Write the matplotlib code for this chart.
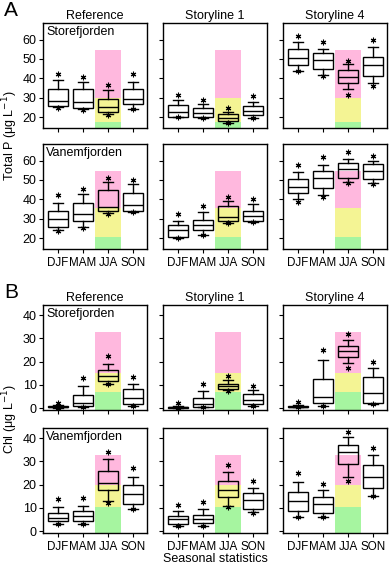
import matplotlib.pyplot as plt

plt.rcParams['font.family'] = ['Liberation Sans', 'DejaVu Sans']

seasons = ["DJF", "MAM", "JJA", "SON"]
scenarios = ["Reference", "Storyline 1", "Storyline 4"]
fjords = ["Storefjorden", "Vanemfjorden"]

# each season: (star_lo, whislo, q1, median, q3, whishi, star_hi)
tp_store_ref = [(25, 25.2, 25.8, 28.6, 34.4, 39, 42.4), (24, 24.1, 25, 27.7, 34.7, 38.3, 40.7),
                (21.2, 21.8, 22.7, 25.1, 29.2, 34.2, 36.6), (24.2, 24.4, 26.7, 29.4, 34.7, 38.1, 42.4)]
tp_store_s1 = [(20, 20.1, 20.3, 22.6, 26.2, 29, 31.6), (19.8, 19.9, 20.1, 22.2, 24.9, 26.7, 29),
               (17, 17.1, 18.1, 19.6, 21.5, 22.7, 24.6), (19.8, 19.9, 21.2, 23.4, 25.6, 28, 30.9)]
tp_store_s4 = [(43.8, 43.9, 46.8, 50.6, 54.9, 58.8, 62), (41.5, 42, 45.1, 49.7, 53.1, 54.9, 58.6),
               (31.4, 34.4, 37.4, 40.8, 44.3, 47.2, 49.2), (36, 37.8, 41.3, 46.7, 51.1, 56, 60)]
tp_vanem_ref = [(24, 24.3, 25.7, 29.8, 34.2, 38, 42.3), (25.5, 25.7, 29.1, 32.5, 38.4, 42.8, 45.3),
                (32.7, 32.9, 34.1, 36, 44.9, 48.8, 51.2), (33.5, 33.6, 34.2, 37.2, 43.5, 47.8, 50)]
tp_vanem_s1 = [(20.3, 20.4, 20.8, 24.3, 26.7, 29.1, 32.5), (21.5, 21.7, 24.3, 27, 29.4, 33.7, 36.5),
               (28, 28.1, 29.1, 31.1, 36.5, 39.2, 41.4), (28.4, 28.5, 29.1, 31.5, 34.2, 37.5, 40.1)]
tp_vanem_s4 = [(38.9, 40.1, 43.2, 46.6, 50.7, 54.2, 57.8), (41, 42.3, 45.8, 50.9, 54.8, 57.8, 61.7),
               (48.5, 49.2, 50.9, 55.6, 58.7, 60.9, 64.3), (48, 48.3, 50.7, 54.7, 58.1, 59.5, 62.1)]

chl_store_ref = [(0.2, 0.2, 0.3, 0.5, 0.9, 1.3, 2.2), (0.3, 0.3, 1.0, 2.4, 5.7, 9.6, 13.1),
                 (10.4, 10.4, 11.8, 13.6, 16.4, 19.1, 22.4), (1.0, 1.0, 1.7, 4.3, 8.3, 10.4, 13.3)]
chl_store_s1 = [(0.2, 0.2, 0.2, 0.4, 0.7, 1.1, 2.2), (0.3, 0.3, 0.7, 1.8, 4.3, 7.4, 10.3),
                (7.4, 7.6, 8.3, 9.6, 10.4, 12.1, 14), (1.0, 1.0, 1.7, 3.6, 6.0, 7.6, 9.3)]
chl_store_s4 = [(0.3, 0.3, 0.4, 0.7, 1.1, 1.5, 2.6), (1.0, 1.0, 2.4, 4.7, 12.6, 20.7, 25),
                (17.2, 19.3, 22.1, 24.6, 26.9, 29.3, 31.8), (1.8, 1.8, 2.4, 6.4, 13.3, 17.2, 20)]
chl_vanem_ref = [(3, 3.2, 4.2, 5.8, 7.9, 10.3, 13.9), (3, 3.2, 4.3, 6.4, 8.5, 10.7, 14.3),
                 (12.2, 12.9, 17.8, 20.8, 26, 31.1, 33.9), (9.3, 9.3, 11.5, 15.8, 20, 23.2, 27)]
chl_vanem_s1 = [(2.3, 2.3, 3.2, 5.0, 6.3, 8.5, 11.3), (2.4, 2.4, 3.4, 5.2, 7.0, 9.3, 12.4),
                (10.4, 10.6, 14.6, 17.5, 21.5, 25.3, 28.2), (8.0, 8.2, 9.6, 13.2, 16.3, 18.5, 21.5)]
chl_vanem_s4 = [(6, 6, 8.6, 12.9, 16.7, 21, 25.1), (6, 6, 7.7, 11.5, 14.6, 17.5, 20.3),
                (21.5, 23.2, 28.9, 33.9, 37.2, 40.3, 42.5), (15, 15.3, 18.6, 23.2, 28.2, 32.8, 35.6)]

# class limits for JJA (green top, yellow top, pink top)
tp_bands = [(17.5, 30, 54.5), (20.5, 35.5, 54.5)]
chl_bands = [(7, 15, 32.7), (10.5, 20, 32.7)]

panels = [
    ("Total P (μg L$^{-1}$)", [[tp_store_ref, tp_store_s1, tp_store_s4],
                               [tp_vanem_ref, tp_vanem_s1, tp_vanem_s4]],
     tp_bands, (14.5, 68.5), [20, 30, 40, 50, 60], "A"),
    ("Chl (μg L$^{-1}$)", [[chl_store_ref, chl_store_s1, chl_store_s4],
                           [chl_vanem_ref, chl_vanem_s1, chl_vanem_s4]],
     chl_bands, (-0.8, 44.3), [0, 10, 20, 30, 40], "B"),
]

W, H = 392, 567
fig = plt.figure(figsize=(W / 100, H / 100), dpi=100)

col_left = [43, 163, 283]
row_top = [[23, 144], [305, 428]]
ax_w, ax_h = 104, 105
band_colors = ["#a6f5a0", "#f4f494", "#ffb8de"]

for p, (ylabel, data, bands, ylim, yticks, letter) in enumerate(panels):
    for r in range(2):
        for c in range(3):
            top = row_top[p][r]
            ax = fig.add_axes([col_left[c] / W, 1 - (top + ax_h) / H, ax_w / W, ax_h / H])
            # coloured class bands behind JJA
            lo = ylim[0]
            for k in range(3):
                ax.bar(3, bands[r][k] - lo, bottom=lo, width=1.06, color=band_colors[k],
                       zorder=0 - k * 0.01)
                lo = bands[r][k]
            stats = []
            for s in data[r][c]:
                stats.append(dict(whislo=s[1], q1=s[2], med=s[3], q3=s[4], whishi=s[5], fliers=[]))
            ax.bxp(stats, positions=[1, 2, 3, 4], widths=0.8, patch_artist=True,
                   boxprops=dict(facecolor='none', edgecolor='black', linewidth=1),
                   medianprops=dict(color='black', linewidth=1),
                   whiskerprops=dict(color='black', linewidth=1),
                   capprops=dict(color='black', linewidth=1), capwidths=0.4)
            ax.plot([1, 2, 3, 4], [s[6] for s in data[r][c]], ls='none', marker=(6, 2, 0),
                    ms=4, mew=0.8, color='black')
            ax.plot([1, 2, 3, 4], [s[0] for s in data[r][c]], ls='none', marker=(6, 2, 0),
                    ms=4, mew=0.8, color='black')
            ax.set_xlim(0.4, 4.55)
            ax.set_ylim(*ylim)
            ax.set_yticks(yticks)
            ax.set_xticks([1, 2, 3, 4])
            ax.tick_params(direction='out', length=3, labelsize=9, pad=1.5)
            if r == 1:
                ax.set_xticklabels(seasons, fontsize=8.4)
                ax.tick_params(axis='x', pad=3)
            else:
                ax.set_xticklabels([])
            if c != 0:
                ax.set_yticklabels([])
            if r == 0:
                ax.set_title(scenarios[c], fontsize=9, pad=3)
            if c == 0:
                ax.text(0.03, 0.97, fjords[r], transform=ax.transAxes, fontsize=9,
                        va='top', ha='left')
            for sp in ax.spines.values():
                sp.set_linewidth(1)
    mid = (row_top[p][0] + row_top[p][1] + ax_h) / 2
    fig.text(10 / W, 1 - mid / H, ylabel, rotation=90, va='center', ha='center', fontsize=9)
    fig.text(4 / W, 1 - (row_top[p][0] - 12) / H, letter, fontsize=15, va='center', ha='left')

fig.text(215 / W, 1 - 559 / H, "Seasonal statistics", ha='center', va='center', fontsize=9)

fig.savefig("out.png", dpi=100)
